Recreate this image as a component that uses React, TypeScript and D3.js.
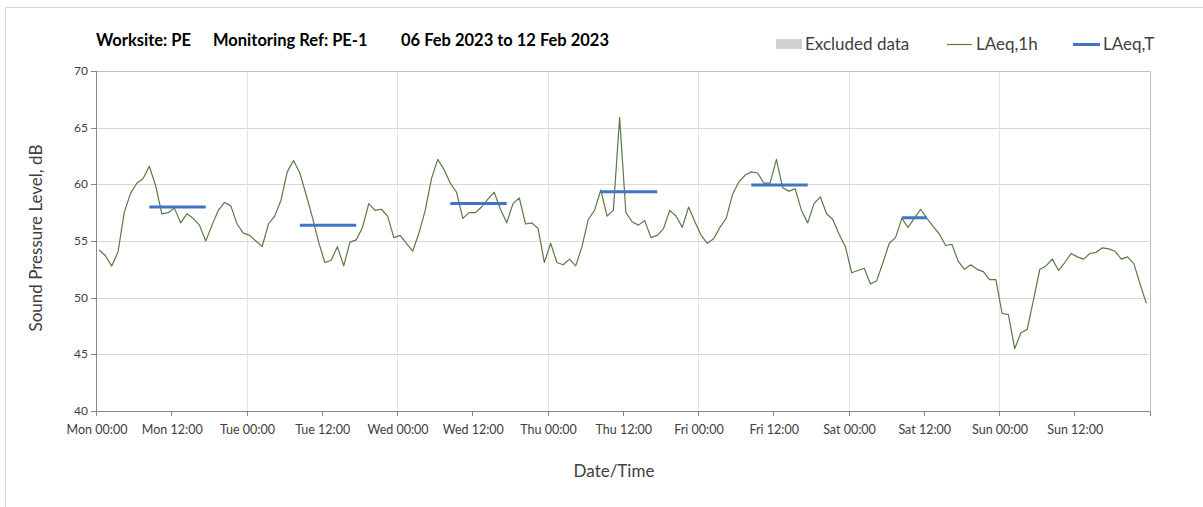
import React from 'react'
import * as d3 from 'd3'

// hourly LAeq,1h values, Mon 00:00 .. Sun 23:00
const LAEQ_1H = [
  54.2, 53.7, 52.8, 54.0, 57.5, 59.2, 60.1, 60.5, 61.6, 59.9, 57.4, 57.5,
  57.9, 56.6, 57.4, 57.0, 56.4, 55.0, 56.4, 57.7, 58.4, 58.1, 56.5, 55.7,
  55.5, 55.0, 54.5, 56.5, 57.2, 58.6, 61.1, 62.1, 61.0, 59.1, 57.1, 54.9,
  53.1, 53.3, 54.5, 52.8, 54.9, 55.1, 56.2, 58.3, 57.7, 57.8, 57.2, 55.3,
  55.5, 54.8, 54.1, 55.7, 57.7, 60.5, 62.2, 61.3, 60.1, 59.3, 57.0, 57.5,
  57.5, 58.0, 58.7, 59.3, 57.8, 56.6, 58.3, 58.8, 56.5, 56.6, 56.1, 53.1,
  54.8, 53.1, 52.9, 53.4, 52.8, 54.5, 56.9, 57.7, 59.5, 57.2, 57.7, 65.9,
  57.5, 56.7, 56.4, 56.8, 55.3, 55.5, 56.1, 57.7, 57.2, 56.2, 58.0, 56.7,
  55.5, 54.8, 55.2, 56.2, 57.0, 59.1, 60.2, 60.8, 61.1, 61.0, 60.1, 60.1,
  62.2, 59.7, 59.4, 59.6, 57.7, 56.6, 58.3, 58.9, 57.4, 56.9, 55.6, 54.5,
  52.2, 52.4, 52.6, 51.2, 51.5, 53.1, 54.8, 55.3, 57.0, 56.2, 57.0, 57.8,
  57.0, 56.3, 55.6, 54.6, 54.7, 53.2, 52.5, 52.9, 52.5, 52.3, 51.6, 51.6,
  48.6, 48.5, 45.5, 46.9, 47.2, 49.8, 52.5, 52.8, 53.4, 52.4, 53.1, 53.9,
  53.6, 53.4, 53.9, 54.0, 54.4, 54.3, 54.1, 53.4, 53.6, 53.0, 51.2, 49.5,
]

// LAeq,T working periods (hours from Mon 00:00)
const PERIOD_START = [8, 32, 56, 80, 104, 128]
const PERIOD_END = [18, 42, 66, 90, 114, 133]
const PERIOD_LEVEL = [58.0, 56.4, 58.3, 59.35, 59.95, 57.05]

const DAY_NAMES = ['Mon', 'Tue', 'Wed', 'Thu', 'Fri', 'Sat', 'Sun']
const Y_TICKS = [40, 45, 50, 55, 60, 65, 70]

const W = 1203
const H = 507
const FONT = 'Lato, "Open Sans", sans-serif'
const GREEN = '#5a7a46'
const BLUE = '#4472c4'

export default function App() {
  const x = d3.scaleLinear().domain([0, 168]).range([96, 1149.5])
  const y = d3.scaleLinear().domain([40, 70]).range([411, 71])

  const line = d3.line<number>()
    .x((_, i) => x(i + 0.5))
    .y(d => y(d))

  const xTicks = d3.range(0, 169, 12)

  return (
    <div style={{ position: 'absolute', left: 0, top: 0 }}>
      <svg width={W} height={H} style={{ display: 'block', fontFamily: FONT }}>
        <rect x={0} y={0} width={W} height={H} fill="#fff" />
        <rect x={5.5} y={7.5} width={W + 10} height={H + 10} fill="none" stroke="#d9d9d9" />

        {/* title */}
        <g fontWeight="bold" fontSize={16.5} fill="#000">
          <text x={96} y={46}>Worksite: PE</text>
          <text x={213} y={46}>Monitoring Ref: PE-1</text>
          <text x={401} y={46}>06 Feb 2023 to 12 Feb 2023</text>
        </g>

        {/* legend */}
        <g fontSize={17} fill="#404040">
          <rect x={776} y={39} width={26} height={10} fill="#d0d0d0" />
          <text x={805} y={50}>Excluded data</text>
          <line x1={947} x2={972} y1={44.5} y2={44.5} stroke={GREEN} strokeWidth={1.2} />
          <text x={976} y={50}>LAeq,1h</text>
          <line x1={1073} x2={1100} y1={44.5} y2={44.5} stroke={BLUE} strokeWidth={3} />
          <text x={1103} y={50}>LAeq,T</text>
        </g>

        {/* grid */}
        {Y_TICKS.map(t => (
          <line key={'gy' + t} x1={x(0)} x2={x(168)} y1={Math.round(y(t)) + 0.5} y2={Math.round(y(t)) + 0.5}
            stroke="#d9d9d9" strokeWidth={1} />
        ))}
        {d3.range(24, 168, 24).map(h => (
          <line key={'gx' + h} x1={Math.round(x(h)) + 0.5} x2={Math.round(x(h)) + 0.5} y1={y(70)} y2={y(40)}
            stroke="#e3e3e3" strokeWidth={1} />
        ))}
        <line x1={Math.round(x(168)) + 0.5} x2={Math.round(x(168)) + 0.5} y1={y(70)} y2={y(40) + 5}
          stroke="#bfbfbf" />
        <line x1={x(0)} x2={x(168)} y1={Math.round(y(70)) + 0.5} y2={Math.round(y(70)) + 0.5} stroke="#bfbfbf" />

        {/* y axis */}
        <line x1={96.5} x2={96.5} y1={y(70)} y2={y(40)} stroke="#868686" />
        {Y_TICKS.map(t => (
          <g key={'ty' + t}>
            <line x1={91} x2={96} y1={Math.round(y(t)) + 0.5} y2={Math.round(y(t)) + 0.5} stroke="#868686" />
            <text x={88} y={y(t) + 4} textAnchor="end" fontSize={12} fill="#404040">{t}</text>
          </g>
        ))}

        {/* x axis */}
        <line x1={x(0)} x2={x(168)} y1={Math.round(y(40)) + 0.5} y2={Math.round(y(40)) + 0.5} stroke="#868686" />
        {xTicks.map(h => (
          <line key={'tx' + h} x1={Math.round(x(h)) + 0.5} x2={Math.round(x(h)) + 0.5} y1={y(40)} y2={y(40) + 5}
            stroke="#868686" />
        ))}
        {xTicks.slice(0, 14).map(h => (
          <text key={'lx' + h} x={x(h) + 1} y={434} textAnchor="middle" fontSize={12.5} fill="#404040">
            {DAY_NAMES[Math.floor(h / 24)]} {h % 24 === 0 ? '00:00' : '12:00'}
          </text>
        ))}

        {/* axis titles */}
        <text x={614} y={477} textAnchor="middle" fontSize={17} fill="#404040">Date/Time</text>
        <text transform="translate(42,238) rotate(-90)" textAnchor="middle" fontSize={17} fill="#404040">
          Sound Pressure Level, dB
        </text>

        {/* LAeq,1h */}
        <path d={line(LAEQ_1H) || ''} fill="none" stroke={GREEN} strokeWidth={1.2} strokeLinejoin="round" />

        {/* LAeq,T */}
        {PERIOD_LEVEL.map((v, i) => (
          <line key={'p' + i} x1={x(PERIOD_START[i] + 0.5)} x2={x(PERIOD_END[i] - 0.5)} y1={y(v)} y2={y(v)}
            stroke={BLUE} strokeWidth={3} />
        ))}
      </svg>
    </div>
  )
}
